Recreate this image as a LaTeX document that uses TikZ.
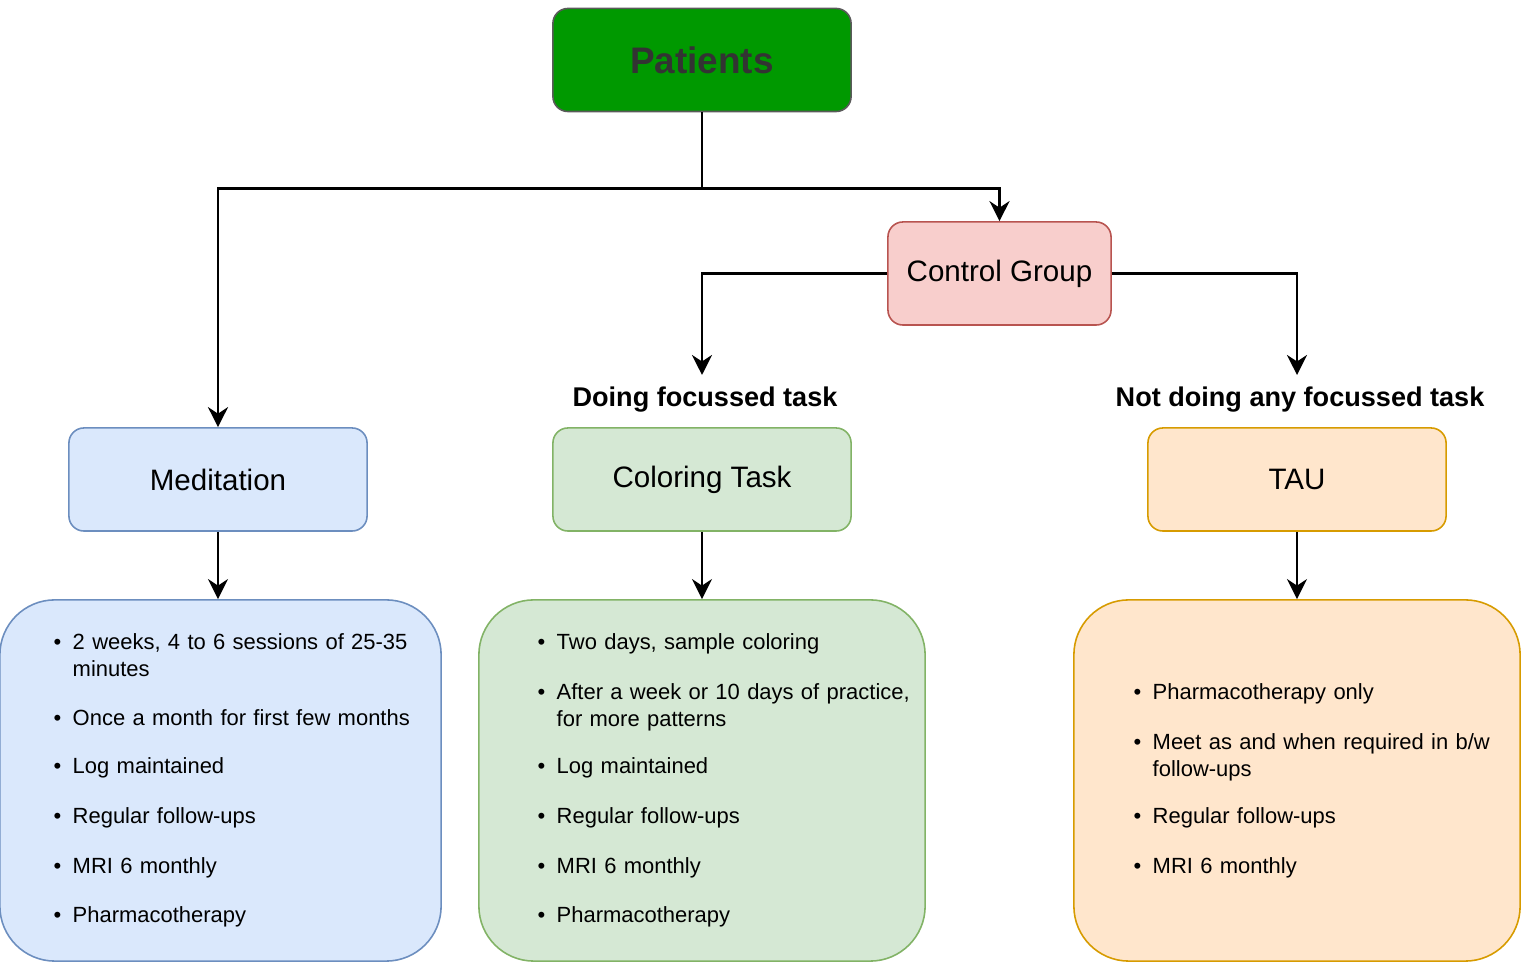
\documentclass[tikz,border=0pt]{standalone}
\usepackage{fontspec}
\setmainfont{Liberation Sans}
\usetikzlibrary{arrows.meta,positioning}
\definecolor{PatFill}{HTML}{009900}
\definecolor{PatEdge}{HTML}{5A5A5A}
\definecolor{DarkText}{HTML}{333333}
\definecolor{BlueFill}{HTML}{DAE8FC}
\definecolor{BlueEdge}{HTML}{6C8EBF}
\definecolor{GreenFill}{HTML}{D5E8D4}
\definecolor{GreenEdge}{HTML}{82B366}
\definecolor{OrangeFill}{HTML}{FFE6CC}
\definecolor{OrangeEdge}{HTML}{D79B00}
\definecolor{RedFill}{HTML}{F8CECC}
\definecolor{RedEdge}{HTML}{B85450}
\newcommand{\bul}{\makebox[0.16cm][l]{\hspace{-0.03cm}\textbullet}}
\newcommand{\ind}{\hspace*{0.16cm}}

\begin{document}
\begin{tikzpicture}[
  x=0.01cm, y=-0.01cm,
  >={Stealth[length=0.2cm,width=0.2cm]},
  % group box (rounded, single label)
  grp/.style={draw, line width=0.45pt, rounded corners=0.15cm,
              minimum width=2.98cm, minimum height=1.03cm,
              align=center, font=\fontsize{8.4}{10}\selectfont},
  % detail box (large, very round)
  detail/.style={draw, line width=0.45pt, rounded corners=0.55cm,
                 minimum width=4.46cm, minimum height=3.61cm},
  % bullet item
  itm/.style={anchor=base west, inner sep=0pt, text width=3.9cm, align=left,
              font=\fontsize{6.25}{7.4}\selectfont},
  % branch caption
  tag/.style={inner sep=0pt, font=\fontsize{7.7}{9}\selectfont\bfseries},
  % arrows
  arr/.style={->, line width=0.7pt},
]
\useasboundingbox (0,0) rectangle (1536,965);

%% -- column centres ----------------------------------------------------
\def\xm{218}   % meditation column
\def\xc{702}   % coloring column
\def\xt{1297}  % TAU column

%% -- top of tree -------------------------------------------------------
\node[grp, fill=PatFill, draw=PatEdge, text=DarkText,
      font=\fontsize{10.5}{12}\selectfont\bfseries] (pat) at (\xc,60) {Patients};
\node[grp, minimum width=2.23cm, fill=RedFill, draw=RedEdge] (ctrl) at (999.5,273.5) {Control Group};

%% -- branch captions ---------------------------------------------------
\node[tag] (doing) at (705,400) {Doing focussed task};
\node[tag] (notdoing) at (1300,400) {Not doing any focussed task};
\coordinate (cdo) at (\xc,375);
\coordinate (cnot) at (\xt,375);

%% -- group nodes -------------------------------------------------------
\node[grp, fill=BlueFill, draw=BlueEdge] (med) at (\xm,479.5) {Meditation};
\node[grp, fill=GreenFill, draw=GreenEdge] (col) at (\xc,479.5) {Coloring Task};
\node[grp, fill=OrangeFill, draw=OrangeEdge] (tau) at (\xt,479.5) {TAU};

%% -- detail boxes ------------------------------------------------------
\node[detail, minimum width=4.41cm, fill=BlueFill, draw=BlueEdge] (medl) at (220.5,780.5) {};
\node[detail, fill=GreenFill, draw=GreenEdge] (coll) at (\xc,780.5) {};
\node[detail, fill=OrangeFill, draw=OrangeEdge] (taul) at (\xt,780.5) {};

%% -- connectors --------------------------------------------------------
\draw[arr] (pat.south) -- ++(0,76) -| (med.north);
\draw[arr] (pat.south) -- ++(0,76) -| (ctrl.north);
\draw[arr] (ctrl.west) -| (cdo);
\draw[arr] (ctrl.east) -| (cnot);
\foreach \a/\b in {med/medl,col/coll,tau/taul}
  \draw[arr] (\a.south) -- (\a.south |- \b.north);

%% -- meditation items --------------------------------------------------
\node[itm] (m1) at (56,650) {\bul 2 weeks, 4 to 6 sessions of 25-35\\\ind minutes};
\node[itm] (m2) at (56,726) {\bul Once a month for first few months};
\node[itm] (m3) at (56,774) {\bul Log maintained};
\node[itm] (m4) at (56,824) {\bul Regular follow-ups};
\node[itm] (m5) at (56,874) {\bul MRI 6 monthly};
\node[itm] (m6) at (56,923) {\bul Pharmacotherapy};

%% -- coloring items ----------------------------------------------------
\node[itm] (c1) at (540,650) {\bul Two days, sample coloring};
\node[itm] (c2) at (540,700) {\bul After a week or 10 days of practice,\\\ind for more patterns};
\node[itm] (c3) at (540,774) {\bul Log maintained};
\node[itm] (c4) at (540,824) {\bul Regular follow-ups};
\node[itm] (c5) at (540,874) {\bul MRI 6 monthly};
\node[itm] (c6) at (540,923) {\bul Pharmacotherapy};

%% -- TAU items ---------------------------------------------------------
\node[itm] (t1) at (1136,700) {\bul Pharmacotherapy only};
\node[itm] (t2) at (1136,750) {\bul Meet as and when required in b/w\\\ind follow-ups};
\node[itm] (t3) at (1136,824) {\bul Regular follow-ups};
\node[itm] (t4) at (1136,874) {\bul MRI 6 monthly};

\end{tikzpicture}
\end{document}
